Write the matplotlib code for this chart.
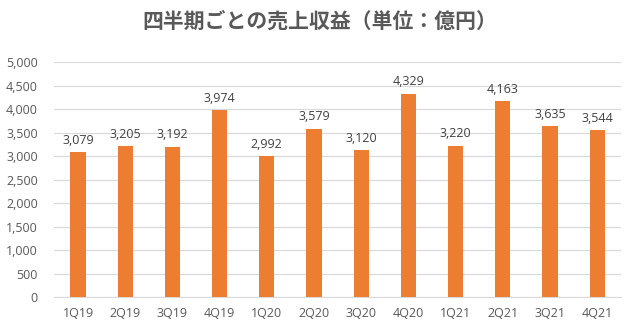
import matplotlib
matplotlib.use("Agg")
import matplotlib.pyplot as plt
from matplotlib.ticker import FuncFormatter

plt.rcParams['font.family'] = ['Open Sans', 'Noto Sans CJK JP', 'DejaVu Sans']

quarters = ["1Q19", "2Q19", "3Q19", "4Q19", "1Q20", "2Q20", "3Q20", "4Q20",
            "1Q21", "2Q21", "3Q21", "4Q21"]
revenue = [3079, 3205, 3192, 3974, 2992, 3579, 3120, 4329, 3220, 4163, 3635, 3544]

fig = plt.figure(figsize=(6.4, 3.3), dpi=100)
ax = fig.add_axes([0.085, 0.10, 0.885, 0.712])

x = range(len(quarters))
bars = ax.bar(x, revenue, width=0.32, color="#ED7D31", zorder=3)

for xi, v in zip(x, revenue):
    ax.text(xi, v + 120, f"{v:,}", ha="center", va="bottom", fontsize=9, color="#404040")

ax.set_xlim(-0.5, len(quarters) - 0.5)
ax.set_ylim(0, 5000)
ax.set_yticks(range(0, 5001, 500))
ax.yaxis.set_major_formatter(FuncFormatter(lambda v, p: f"{int(v):,}"))
ax.set_xticks(list(x))
ax.set_xticklabels(quarters)

ax.grid(axis="y", color="#D9D9D9", linewidth=0.8, zorder=0)
for s in ["top", "right", "left"]:
    ax.spines[s].set_visible(False)
ax.spines["bottom"].set_color("#D9D9D9")
ax.tick_params(axis="both", length=0, labelsize=9, colors="#595959")
ax.tick_params(axis="y", pad=12)
ax.tick_params(axis="x", pad=7)

fig.text(0.5, 0.935, "四半期ごとの売上収益（単位：億円）", ha="center", va="center",
         fontsize=15, fontweight="bold", color="#595959",
         family=['Noto Sans CJK JP', 'DejaVu Sans'])

fig.savefig("out.png", dpi=100)
